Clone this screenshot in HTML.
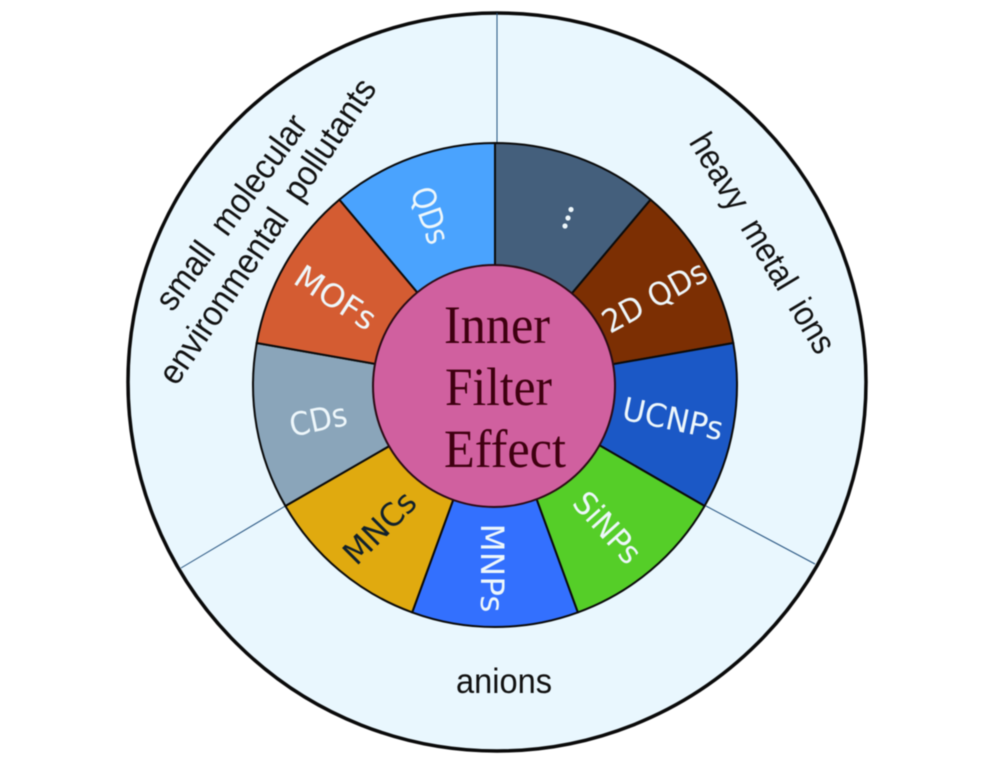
<!DOCTYPE html>
<html><head><meta charset="utf-8"><style>
html,body{margin:0;padding:0;background:#fff}
svg{display:block;filter:blur(.45px)}
.a{font-family:"Liberation Sans",sans-serif;font-size:35px;fill:#111}
.b{font-family:"DejaVu Sans",sans-serif;font-size:32px;fill:#eef7fb;text-anchor:middle}
.c{font-family:"Liberation Serif",serif;font-size:54px;fill:#3f0010}
</style></head><body>
<svg width="1000" height="762" viewBox="0 0 1000 762" xmlns="http://www.w3.org/2000/svg">
<circle cx="497" cy="382" r="369" fill="#e9f7fe" stroke="#0a0a0a" stroke-width="3.5"/>
<g stroke="#24527f" stroke-width="1" fill="none">
<path d="M497 13V143M287 505L181 568M706 506L815 564"/>
</g>
<g stroke="#0a0a0a" stroke-width="2" stroke-linejoin="round">
<path d="M495 385L495 143A242 242 0 0 1 650.6 199.6Z" fill="#445f7c"/>
<path d="M495 385L650.6 199.6A242 242 0 0 1 733.3 343Z" fill="#7c2f03"/>
<path d="M495 385L733.3 343A242 242 0 0 1 704.6 506Z" fill="#1b58c6"/>
<path d="M495 385L704.6 506A242 242 0 0 1 577.8 612.4Z" fill="#55ce28"/>
<path d="M495 385L577.8 612.4A242 242 0 0 1 412.2 612.4Z" fill="#3370fe"/>
<path d="M495 385L412.2 612.4A242 242 0 0 1 285.4 506Z" fill="#e0aa0f"/>
<path d="M495 385L285.4 506A242 242 0 0 1 256.7 343Z" fill="#8aa5ba"/>
<path d="M495 385L256.7 343A242 242 0 0 1 339.4 199.6Z" fill="#d45c32"/>
<path d="M495 385L339.4 199.6A242 242 0 0 1 495 143Z" fill="#4aa3fe"/>
</g>
<circle cx="494" cy="386" r="121" fill="#d0609f" stroke="#2a0a14" stroke-width="2"/>
<text class="c" x="444" y="343" textLength="106" lengthAdjust="spacingAndGlyphs">Inner</text>
<text class="c" x="445" y="405" textLength="107" lengthAdjust="spacingAndGlyphs">Filter</text>
<text class="c" x="444" y="467" textLength="122" lengthAdjust="spacingAndGlyphs">Effect</text>
<text class="b" transform="translate(431 215) rotate(71) translate(0 12)" textLength="58" lengthAdjust="spacingAndGlyphs">QDs</text>
<text class="b" transform="translate(336 297) rotate(33) translate(0 12)" textLength="90" lengthAdjust="spacingAndGlyphs">MOFs</text>
<text class="b" transform="translate(318 419) rotate(-12) translate(0 12)" textLength="58" lengthAdjust="spacingAndGlyphs">CDs</text>
<text class="b" style="fill:#10202c" transform="translate(379 527) rotate(-45) translate(0 12)" textLength="88" lengthAdjust="spacingAndGlyphs">MNCs</text>
<text class="b" transform="translate(493 568) rotate(90) translate(0 12)" textLength="89" lengthAdjust="spacingAndGlyphs">MNPs</text>
<text class="b" transform="translate(608 527) rotate(48) translate(0 12)" textLength="84" lengthAdjust="spacingAndGlyphs">SiNPs</text>
<text class="b" transform="translate(673 418) rotate(12) translate(0 12)" textLength="102" lengthAdjust="spacingAndGlyphs">UCNPs</text>
<text class="b" transform="translate(654 296) rotate(-29) translate(0 12)" textLength="114" lengthAdjust="spacingAndGlyphs">2D QDs</text>
<g fill="#eef7fb"><circle cx="571" cy="209.500" r="2.600"/><circle cx="568" cy="218" r="2.600"/><circle cx="565" cy="226" r="2.600"/></g>
<text class="a" text-anchor="middle" transform="translate(763 243) rotate(59) translate(0 12)" textLength="250" lengthAdjust="spacingAndGlyphs">heavy&#160; metal&#160; ions</text>
<text class="a" text-anchor="middle" transform="translate(231 212) rotate(-54) translate(0 12)" textLength="232" lengthAdjust="spacingAndGlyphs">small&#160; molecular</text>
<text class="a" text-anchor="middle" transform="translate(267 231) rotate(-56) translate(0 12)" textLength="360" lengthAdjust="spacingAndGlyphs">environmental&#160; pollutants</text>
<text class="a" text-anchor="middle" x="504" y="693" textLength="96" lengthAdjust="spacingAndGlyphs">anions</text>
</svg>
</body></html>
